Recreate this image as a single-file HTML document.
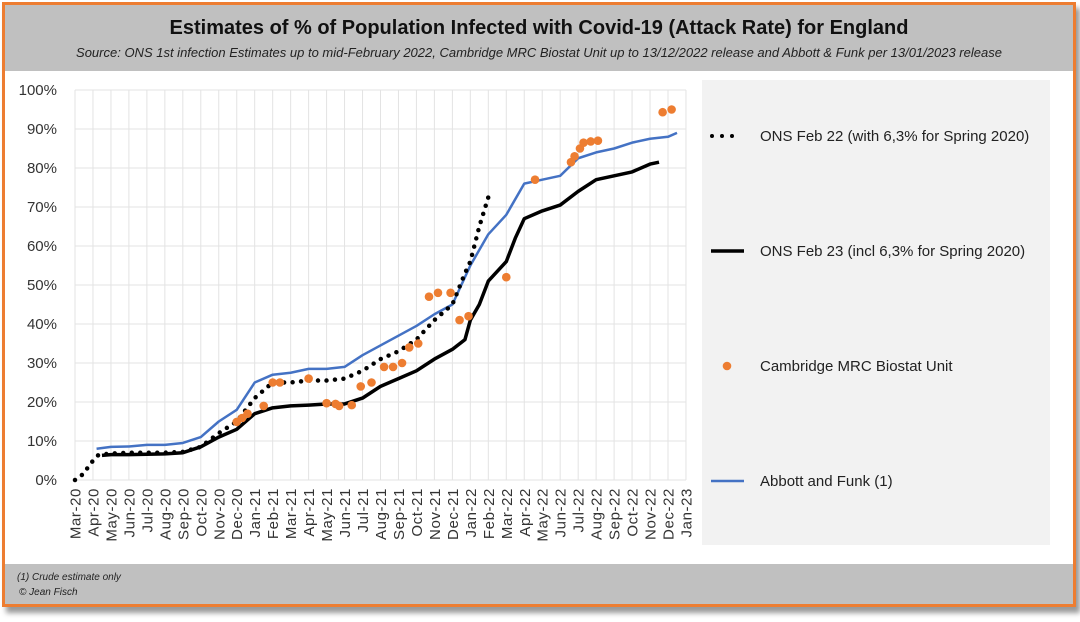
<!DOCTYPE html>
<html><head><meta charset="utf-8"><style>
body{margin:0;width:1080px;height:622px;background:#fff;overflow:hidden;font-family:"Liberation Sans",sans-serif}
#frame{position:absolute;left:2px;top:2px;width:1068px;height:599px;border:3px solid #ed7d31;background:#fff;box-shadow:4px 6px 5px #999}
#hdr{position:absolute;left:0;top:0;width:1068px;height:66px;background:#c0c0c0}
#ftr{position:absolute;left:0;top:559px;width:1068px;height:40px;background:#c0c0c0}
</style></head><body>
<div id="frame">
<div id="hdr">
<div style="position:absolute;left:0;width:1068px;top:12px;text-align:center;font-size:20px;font-weight:bold;color:#111">Estimates of % of Population Infected with Covid-19 (Attack Rate) for England</div>
<div style="position:absolute;left:0;width:1068px;top:40px;text-align:center;font-size:13px;font-style:italic;color:#222">Source: ONS 1st infection Estimates up to mid-February 2022, Cambridge MRC Biostat Unit up to 13/12/2022 release and Abbott &amp; Funk per 13/01/2023 release</div>
</div>
<div id="ftr">
<div style="position:absolute;left:12px;top:8px;font-size:10px;font-style:italic;color:#222">(1) Crude estimate only</div>
<div style="position:absolute;left:14px;top:23px;font-size:10px;font-style:italic;color:#222">© Jean Fisch</div>
</div>
</div>
<svg id="chart" width="1080" height="622" style="position:absolute;left:0;top:0"></svg>
<script>
const months=["Mar-20","Apr-20","May-20","Jun-20","Jul-20","Aug-20","Sep-20","Oct-20","Nov-20","Dec-20","Jan-21","Feb-21","Mar-21","Apr-21","May-21","Jun-21","Jul-21","Aug-21","Sep-21","Oct-21","Nov-21","Dec-21","Jan-22","Feb-22","Mar-22","Apr-22","May-22","Jun-22","Jul-22","Aug-22","Sep-22","Oct-22","Nov-22","Dec-22","Jan-23"];
const yTicks=[0,10,20,30,40,50,60,70,80,90,100];
const onsFeb22T=[0,0.45,0.9,1.3,2,3,4,5,6,7,8,9,10,11,12,13,14,15,16,17,18,19,20,21,21.7,22,22.5,23.1];
const onsFeb22V=[0,1.5,4.4,6.4,6.8,7,7,7,7.2,8.5,12,15,21,25,25,25.5,25.5,26,28,31,33,36,41,45,53,56,65,74];
const onsFeb23T=[1.5,2,3,4,5,6,7,8,9,10,11,12,13,14,15,16,17,18,19,20,21,21.7,22,22.5,23,24,24.5,25,26,27,28,29,30,31,32,32.5];
const onsFeb23V=[6.3,6.5,6.5,6.6,6.7,7,8.5,11,13,17,18.5,19,19.2,19.5,19.5,21,24,26,28,31,33.5,36,41,45,51,56,62,67,69,70.5,74,77,78,79,81,81.5];
const abbottT=[1.2,2,3,4,5,6,7,8,9,10,11,12,13,14,15,16,17,18,19,20,21,22,22.5,23,24,25,26,27,28,29,30,31,32,33,33.5];
const abbottV=[8,8.5,8.6,9,9,9.5,11,15,18,25,27,27.5,28.5,28.5,29,32,34.5,37,39.5,42.5,45,55,59,63,68,76,77,78,82.5,84,85,86.5,87.5,88,89];
const cambT=[9,9.3,9.6,10.5,11,11.4,13,14,14.5,14.7,15.4,15.9,16.5,17.2,17.7,18.2,18.6,19.1,19.7,20.2,20.9,21.4,21.9,24,25.6,27.6,27.8,28.1,28.3,28.7,29.1,32.7,33.2];
const cambV=[14.9,15.9,17,19,25,25,26,19.7,19.5,19,19.2,24,25,29,29,30,34,35,47,48,48,41,42,52,77,81.5,83,85,86.5,86.8,87,94.3,95];
const svg=document.getElementById('chart');const NS='http://www.w3.org/2000/svg';
const x0=75,dx=17.97,yb=480,ys=3.9;
const X=t=>x0+t*dx, Y=v=>yb-v*ys;
function mk(tag,at,txt){const e=document.createElementNS(NS,tag);for(const k in at)e.setAttribute(k,at[k]);if(txt!=null)e.textContent=txt;svg.appendChild(e);return e;}
let lb=mk('rect',{x:702,y:80,width:348,height:465,fill:'#f2f2f2'});


months.forEach((m,i)=>{let g=mk('line',{x1:X(i),x2:X(i),y1:Y(100),y2:yb,stroke:'#e3e3e3'});


let t=mk('text',{x:0,y:0,transform:`translate(${X(i)+5.5},${yb+8}) rotate(-90)`,'text-anchor':'end','font-size':15,'letter-spacing':'0.6',fill:'#333'},m);

});
yTicks.forEach(v=>{let g=mk('line',{x1:X(0),x2:X(34),y1:Y(v),y2:Y(v),stroke:'#e3e3e3'});


let t=mk('text',{x:57,y:Y(v)+5,'text-anchor':'end','font-size':15,fill:'#333'},v+'%');

});
const pts=(T,V)=>T.map((t,i)=>X(t)+','+Y(V[i])).join(' ');
let a=mk('polyline',{points:pts(abbottT,abbottV),fill:'none',stroke:'#4472c4','stroke-width':2.5,'stroke-linejoin':'round'});


let b=mk('polyline',{points:pts(onsFeb23T,onsFeb23V),fill:'none',stroke:'#000','stroke-width':3.5,'stroke-linejoin':'round'});


let c=mk('polyline',{points:pts(onsFeb22T,onsFeb22V),fill:'none',stroke:'#000','stroke-width':4.5,'stroke-dasharray':'0 8.5','stroke-linecap':'round'});


cambT.forEach((t,i)=>{let d=mk('circle',{cx:X(t),cy:Y(cambV[i]),r:4.3,fill:'#ed7d31'});

});
const legY=[136,251,366,481];
const legTxt=["ONS Feb 22 (with 6,3% for Spring 2020)","ONS Feb 23 (incl 6,3% for Spring 2020)","Cambridge MRC Biostat Unit","Abbott and Funk (1)"];
let l1=mk('line',{x1:712,x2:740,y1:136,y2:136,stroke:'#000','stroke-width':4,'stroke-dasharray':'0 10','stroke-linecap':'round'});


let l2=mk('line',{x1:711,x2:744,y1:251,y2:251,stroke:'#000','stroke-width':3.5});


let l3=mk('circle',{cx:727,cy:366,r:4.3,fill:'#ed7d31'});


let l4=mk('line',{x1:711,x2:744,y1:481,y2:481,stroke:'#4472c4','stroke-width':2.5});


legTxt.forEach((s,i)=>{let t=mk('text',{x:760,y:legY[i]+5,'font-size':15,fill:'#222'},s);

});
</script>
</body></html>
